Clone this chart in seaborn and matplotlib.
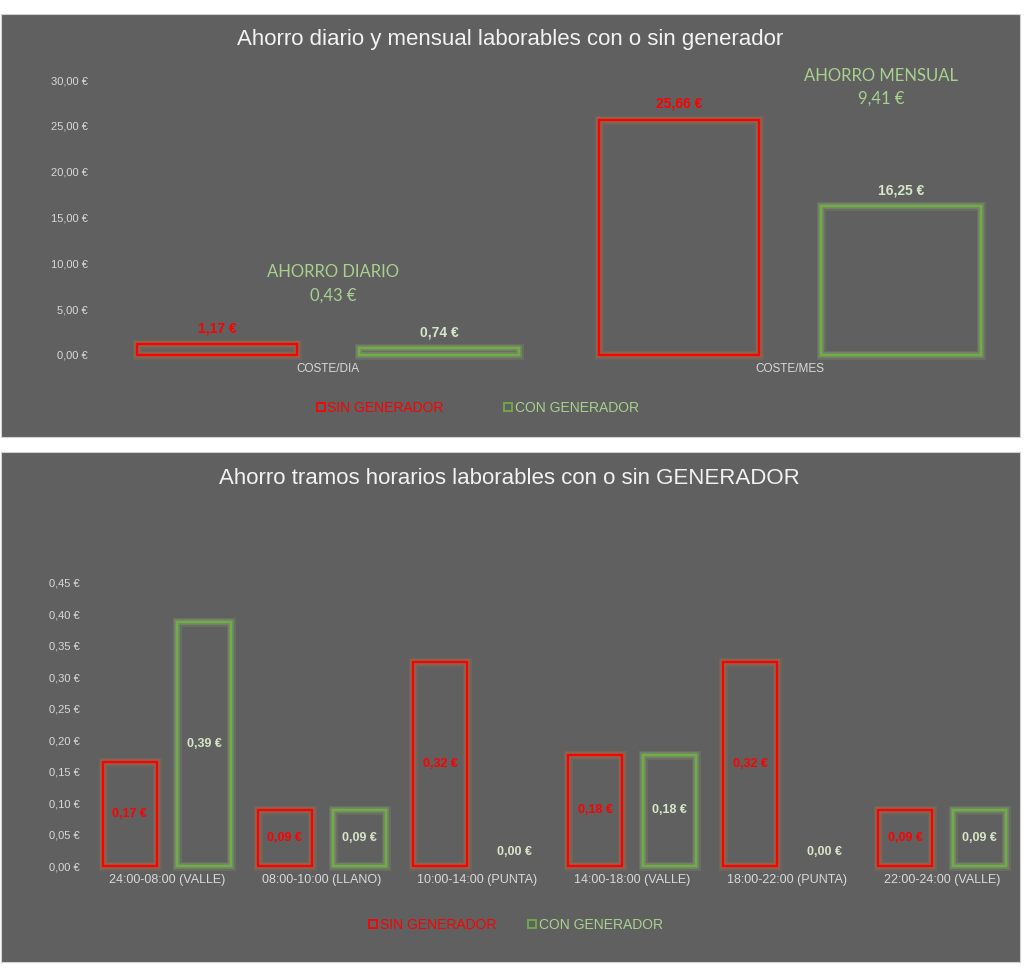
import matplotlib
matplotlib.use("Agg")
import matplotlib.pyplot as plt
import matplotlib.patheffects as pe
from matplotlib.patches import Rectangle
from matplotlib.lines import Line2D
import seaborn as sns
import pandas as pd

# ---------------- data ----------------
series = ["SIN GENERADOR", "CON GENERADOR"]

top_categories = ["COSTE/DIA", "COSTE/MES"]
top_sin = [1.17, 25.66]
top_con = [0.74, 16.25]
top_yticks = [0, 5, 10, 15, 20, 25, 30]

bot_categories = ["24:00-08:00 (VALLE)", "08:00-10:00 (LLANO)", "10:00-14:00 (PUNTA)",
                  "14:00-18:00 (VALLE)", "18:00-22:00 (PUNTA)", "22:00-24:00 (VALLE)"]
bot_sin = [0.166, 0.089, 0.324, 0.177, 0.324, 0.089]
bot_con = [0.388, 0.089, 0.0, 0.177, 0.0, 0.089]
bot_yticks = [0, 0.05, 0.10, 0.15, 0.20, 0.25, 0.30, 0.35, 0.40, 0.45]

title_top = "Ahorro diario y mensual laborables con o sin generador"
title_bot = "Ahorro tramos horarios laborables con o sin GENERADOR"

# ---------------- style ----------------
BG = "#606060"
RED = "#FF0000"
GREEN = "#70AD47"
PALE = "#A9D18E"
LABEL_CON = "#D6E6C8"
TXT = "#D9D9D9"
TITLE = "#F2F2F2"

sns.set_theme(style="white")
plt.rcParams["font.family"] = ["Liberation Sans", "DejaVu Sans"]

W, H = 1024, 980
fig = plt.figure(figsize=(W / 100, H / 100), dpi=100, facecolor="white")

def px(x0, y0, x1, y1):
    return [x0 / W, (H - y1) / H, (x1 - x0) / W, (y1 - y0) / H]

# panels
for (x0, y0, x1, y1) in [(1, 14, 1020, 437), (1, 452, 1020, 962)]:
    fig.patches.append(Rectangle((x0 / W, (H - y1) / H), (x1 - x0) / W, (y1 - y0) / H,
                                 transform=fig.transFigure, facecolor=BG,
                                 edgecolor="#D0D0D0", linewidth=0.8, zorder=-5))

def euro(v, dec=2):
    return f"{v:.{dec}f}".replace(".", ",") + " €"

def style_axes(ax, yticks, ylim, xfs, ypad, xpad):
    ax.set_facecolor("none")
    ax.set_zorder(3)
    for s in ax.spines.values():
        s.set_visible(False)
    ax.set_ylim(*ylim)
    ax.set_yticks(yticks)
    ax.set_yticklabels([euro(t) for t in yticks], fontsize=8, color=TXT)
    ax.tick_params(axis="y", length=0, pad=ypad)
    ax.tick_params(axis="x", length=0, pad=xpad, labelsize=xfs, labelcolor=TXT)
    ax.set_xlabel("")
    ax.set_ylabel("")
    ax.grid(False)

def is_red(p):
    c = p.get_edgecolor()
    return c[0] > 0.9 and c[1] < 0.2

def glow(ax):
    for p in ax.patches:
        p.set_clip_on(False)
        if p.get_height() == 0:
            p.set_linewidth(0)
            continue
        glowc = "#F07830" if is_red(p) else "#A6DC78"
        p.set_path_effects([pe.Stroke(linewidth=6.5, foreground=glowc, alpha=0.12),
                            pe.Stroke(linewidth=4, foreground=glowc, alpha=0.22),
                            pe.Normal()])

# ---------------- top chart ----------------
df_top = pd.DataFrame({
    "cat": top_categories * 2,
    "val": top_sin + top_con,
    "serie": [series[0]] * len(top_sin) + [series[1]] * len(top_con),
})
ax1 = fig.add_axes(px(97, 80, 1021, 355))
sns.barplot(data=df_top, x="cat", y="val", hue="serie", order=top_categories,
            hue_order=series, palette=[RED, GREEN], fill=False, width=0.96, gap=0.28,
            linewidth=1.7, legend=False, ax=ax1, errorbar=None)
style_axes(ax1, top_yticks, (0, 30), 8.5, 6.5, 6)
glow(ax1)
for p in ax1.patches:
    ax1.annotate(euro(p.get_height()), (p.get_x() + p.get_width() / 2, p.get_height()),
                 xytext=(0, 11.5), textcoords="offset points", ha="center", va="center",
                 fontsize=10, fontweight="bold", color=RED if is_red(p) else LABEL_CON)

ahorro_diario = top_sin[0] - top_con[0]
ahorro_mensual = top_sin[1] - top_con[1]
fig.text(333 / W, 1 - 272 / H, "AHORRO DIARIO", ha="center", va="center",
         fontsize=12, color=PALE, family=["Lato", "DejaVu Sans"])
fig.text(333 / W, 1 - 296 / H, euro(ahorro_diario), ha="center", va="center",
         fontsize=12, color=PALE, family=["Lato", "DejaVu Sans"])
fig.text(881 / W, 1 - 76 / H, "AHORRO MENSUAL", ha="center", va="center",
         fontsize=12, color=PALE, family=["Lato", "DejaVu Sans"])
fig.text(881 / W, 1 - 99 / H, euro(ahorro_mensual), ha="center", va="center",
         fontsize=12, color=PALE, family=["Lato", "DejaVu Sans"])

fig.text(510 / W, 1 - 40 / H, title_top, ha="center", va="center", fontsize=16, color=TITLE)

# ---------------- bottom chart ----------------
df_bot = pd.DataFrame({
    "cat": bot_categories * 2,
    "val": bot_sin + bot_con,
    "serie": [series[0]] * len(bot_sin) + [series[1]] * len(bot_con),
})
ax2 = fig.add_axes(px(89.5, 583, 1020, 866))
sns.barplot(data=df_bot, x="cat", y="val", hue="serie", order=bot_categories,
            hue_order=series, palette=[RED, GREEN], fill=False, width=0.96, gap=0.28,
            linewidth=1.7, legend=False, ax=ax2, errorbar=None)
style_axes(ax2, bot_yticks, (0, 0.45), 9, 7, 6)
glow(ax2)
for p in ax2.patches:
    h = p.get_height()
    off = 10 if h == 0 else 0
    ax2.annotate(euro(h), (p.get_x() + p.get_width() / 2, h / 2),
                 xytext=(0, off), textcoords="offset points", ha="center", va="center",
                 fontsize=9, fontweight="bold", color=RED if is_red(p) else LABEL_CON)

fig.text(509.5 / W, 1 - 478 / H, title_bot, ha="center", va="center", fontsize=16, color=TITLE)

# ---------------- legends ----------------
def make_legend(cx, cy, colspace):
    handles = [Line2D([], [], marker="s", linestyle="none", markersize=6,
                      markerfacecolor="none", markeredgecolor=c, markeredgewidth=1.3)
               for c in (RED, GREEN)]
    fig.legend(handles, series, loc="center", bbox_to_anchor=(cx / W, 1 - cy / H),
               ncol=2, frameon=False, fontsize=10, labelcolor=[RED, PALE],
               handlelength=0.7, handletextpad=0.15, columnspacing=colspace)

make_legend(477.5, 408, 4.3)
make_legend(515.5, 925, 2.2)

fig.savefig("out.png", dpi=100, facecolor="white")
